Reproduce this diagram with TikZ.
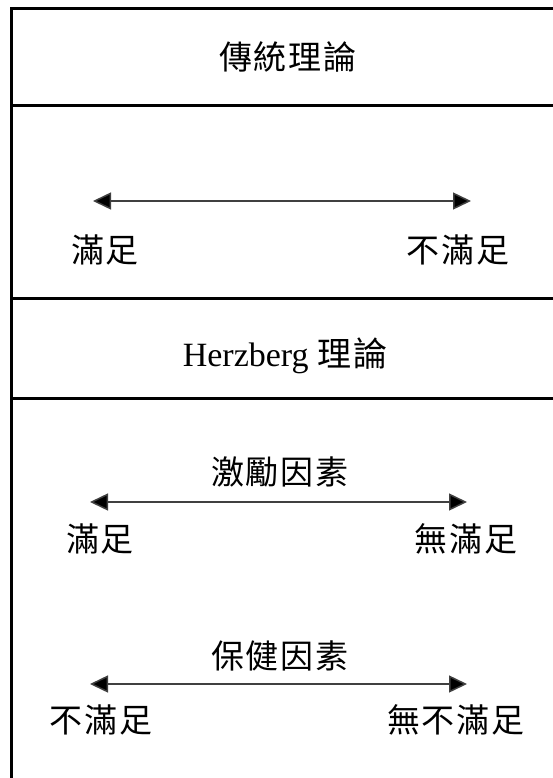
\documentclass[tikz,border=0pt]{standalone}
\usepackage{fontspec}
\setmainfont{Liberation Serif}
\newfontfamily\cjk[LetterSpace=6]{Noto Sans CJK TC}
\usetikzlibrary{arrows.meta}
\begin{document}
\begin{tikzpicture}[x=1pt,y=-1pt,
  frameline/.style={line width=3pt,black},
  twoway/.style={line width=1.5pt,black!75,{Triangle[length=18pt,width=17pt,fill=black]}-{Triangle[length=18pt,width=17pt,fill=black]}},
  lbl/.style={inner sep=0pt,anchor=center,font=\fontsize{33}{38}\selectfont\cjk},
  ttl/.style={inner sep=0pt,anchor=center,font=\fontsize{34}{40}\selectfont}]
\useasboundingbox (0,0) rectangle (553,778);
\clip (0,0) rectangle (553,778);
\fill[white] (0,0) rectangle (553,778);
% frame
\coordinate (tl) at (11,9);
\coordinate (tr) at (570,9);
\coordinate (bl) at (11,790);
\coordinate (l1a) at (11,106);  \coordinate (l1b) at (570,106);
\coordinate (l2a) at (11,298);  \coordinate (l2b) at (570,298);
\coordinate (l3a) at (11,398);  \coordinate (l3b) at (570,398);
\draw[frameline] (bl) -- (tl) -- (tr);
\draw[frameline] (l1a) -- (l1b);
\draw[frameline] (l2a) -- (l2b);
\draw[frameline] (l3a) -- (l3b);
% titles
\node[lbl] (t1) at (288,57) {傳統理論};
\node[ttl] (t2) at (285,356) {Herzberg {\cjk 理論}};
% traditional
\coordinate (a1l) at (93,201); \coordinate (a1r) at (471,201);
\draw[twoway] (a1l) -- (a1r);
\node[lbl] (s1) at (105,250) {滿足};
\node[lbl] (n1) at (458,250) {不滿足};
% motivators
\node[lbl] (m) at (280,472) {激勵因素};
\coordinate (a2l) at (90,502); \coordinate (a2r) at (467,502);
\draw[twoway] (a2l) -- (a2r);
\node[lbl] (s2) at (100,539) {滿足};
\node[lbl] (n2) at (466,539) {無滿足};
% hygiene
\node[lbl] (h) at (280,656) {保健因素};
\coordinate (a3l) at (90,684); \coordinate (a3r) at (467,684);
\draw[twoway] (a3l) -- (a3r);
\node[lbl] (s3) at (101,720) {不滿足};
\node[lbl] (n3) at (456,720) {無不滿足};
\end{tikzpicture}
\end{document}
